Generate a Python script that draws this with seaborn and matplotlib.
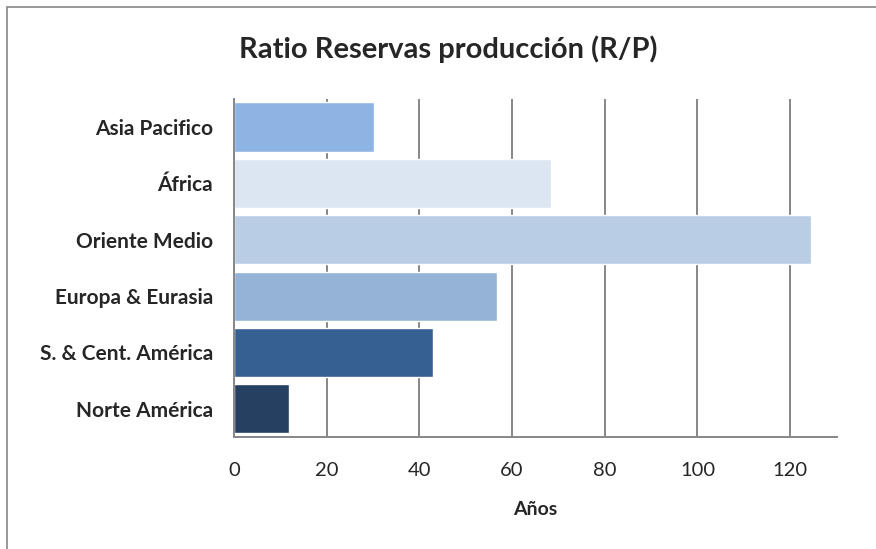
import matplotlib
matplotlib.use("Agg")
import matplotlib.pyplot as plt
import seaborn as sns
import pandas as pd
from matplotlib.patches import Rectangle

regiones = ["Asia Pacifico", "África", "Oriente Medio", "Europa & Eurasia",
            "S. & Cent. América", "Norte América"]
ratio_rp = [30.3, 68.5, 124.5, 56.7, 42.9, 11.8]
colores = ["#8EB4E3", "#DCE6F2", "#B9CDE5", "#95B3D7", "#366092", "#254061"]
ticks_x = [0, 20, 40, 60, 80, 100, 120]

sns.set_theme(style="white")
plt.rcParams["font.family"] = ["Lato", "DejaVu Sans"]

df = pd.DataFrame({"region": regiones, "anios": ratio_rp})

fig = plt.figure(figsize=(8.76, 5.49), dpi=100)
ax = fig.add_axes([0.267, 0.204, 0.688, 0.616])

sns.barplot(data=df, y="region", x="anios", hue="region", palette=colores,
            order=regiones, hue_order=regiones, legend=False, width=0.87,
            saturation=1, ax=ax)

ax.set_xlim(0, 130)
ax.set_xticks(ticks_x)
ax.set_xticklabels([str(t) for t in ticks_x], fontsize=14.5)
ax.set_axisbelow(True)
ax.grid(axis="x", color="#868686", linewidth=1.4)
ax.grid(axis="y", visible=False)
for s in ["top", "right"]:
    ax.spines[s].set_visible(False)
for s in ["left", "bottom"]:
    ax.spines[s].set_color("#868686")
    ax.spines[s].set_linewidth(1.4)
ax.tick_params(axis="x", length=0, pad=18)
ax.tick_params(axis="y", length=0, pad=15)
for lbl in ax.get_yticklabels():
    lbl.set_fontweight("bold")
    lbl.set_fontsize(15)
ax.set_ylabel("")
ax.set_xlabel("Años", fontsize=14, fontweight="bold", labelpad=16)

fig.text(448 / 876, 1 - 49 / 549, "Ratio Reservas producción (R/P)",
         fontsize=21, fontweight="bold", ha="center", va="center")

# chart area frame
fig.patches.append(Rectangle((7 / 876, -0.1), 1.2, 1 - 7 / 549 + 0.1,
                             transform=fig.transFigure, fill=False,
                             edgecolor="#868686", linewidth=1.2))

fig.savefig("out.png", dpi=100)
